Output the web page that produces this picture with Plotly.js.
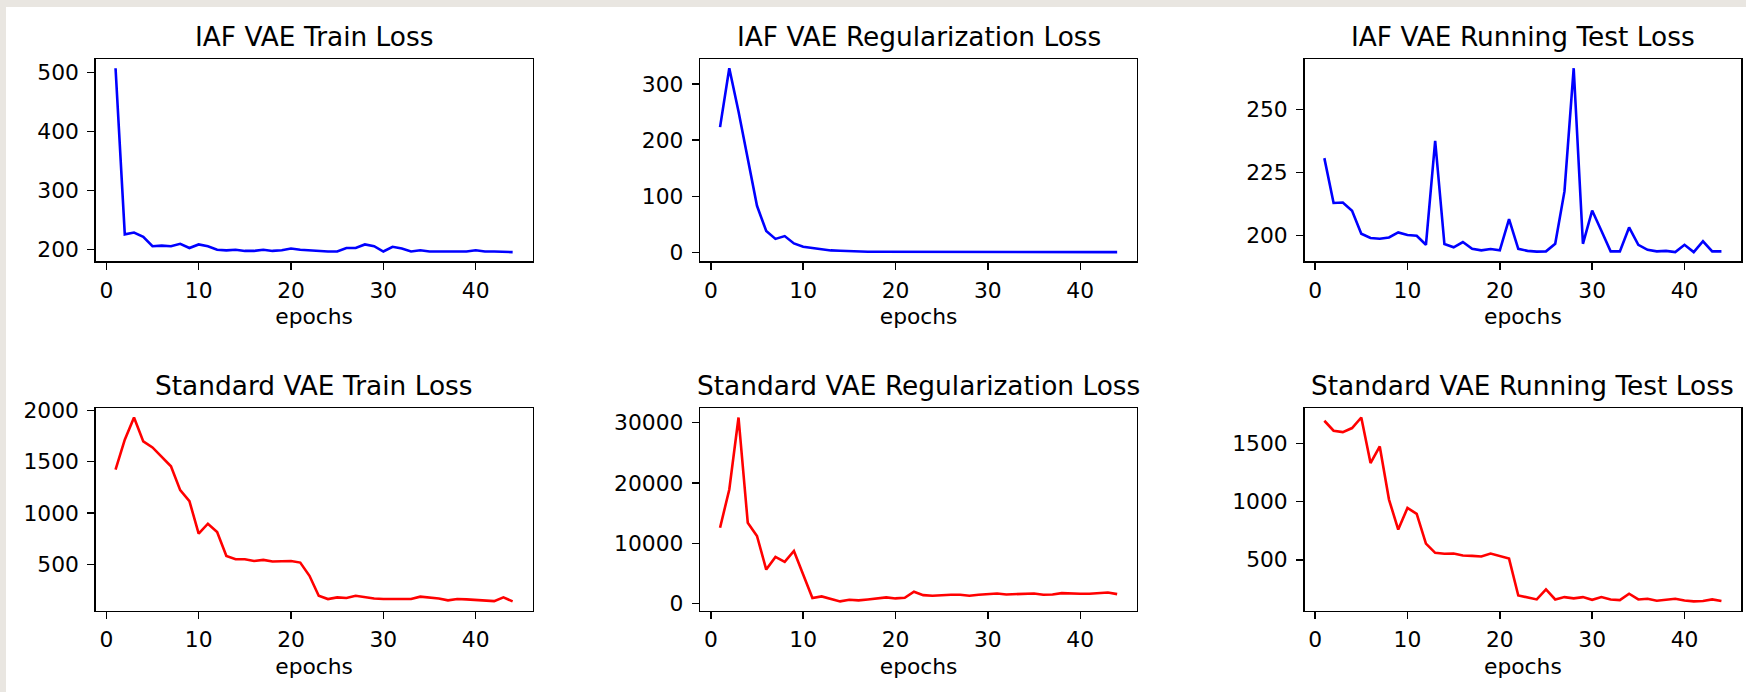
<!DOCTYPE html>
<html>
<head>
<meta charset="utf-8">
<script src="https://cdn.plot.ly/plotly-3.0.1.min.js"></script>
<style>
  html, body { margin: 0; padding: 0; background: #e9e6e1; }
  #chart { width: 1746px; height: 692px; }
</style>
</head>
<body>
<div id="chart"></div>
<script>
// ---------------- DATA ----------------
const epochs = [1,2,3,4,5,6,7,8,9,10,11,12,13,14,15,16,17,18,19,20,21,22,23,24,25,26,27,28,29,30,31,32,33,34,35,36,37,38,39,40,41,42,43,44];

const titles = [
  "IAF VAE Train Loss",
  "IAF VAE Regularization Loss",
  "IAF VAE Running Test Loss",
  "Standard VAE Train Loss",
  "Standard VAE Regularization Loss",
  "Standard VAE Running Test Loss"
];

const xTickVals = [0, 10, 20, 30, 40];
const xLabel = "epochs";

const iafTrain = [507,226,229,222,206,207,206,210,203,209,206,200,199,200,198,198,200,198,199,202,200,199,197,197,197,203,203,209,206,197,205,202,197,199,197,197,197,197,197,199,197,197,197,196];
const iafReg = [223,328,251,169,83,38,24,29,16,10,8,5,3.5,3,2,1.5,1.2,1,1,0.9,0.9,0.8,0.8,0.8,0.7,0.7,0.7,0.7,0.7,0.6,0.6,0.6,0.6,0.6,0.6,0.6,0.5,0.5,0.5,0.5,0.5,0.5,0.5,0.5];
const iafTest = [230.8,213,213.2,209.9,200.8,199.1,198.8,199.3,201.3,200.3,200,196.4,237.7,196.7,195.4,197.5,194.8,194.2,194.7,194.2,206.6,194.8,194,193.7,193.8,196.8,217.6,266.5,196.8,210,202,193.8,193.8,203.3,196.4,194.4,193.8,194,193.5,196.4,193.5,197.8,193.8,193.8];
const stdTrain = [1423,1715,1932,1699,1640,1553,1456,1223,1116,798,895,814,581,549,549,532,542,526,532,532,516,387,192,160,176,170,192,176,166,160,160,163,160,183,173,166,147,160,157,153,147,140,176,137];
const stdReg = [12582,18900,30824,13407,11209,5659,7747,6923,8736,4890,934,1209,769,385,659,549,714,824,1044,879,989,1978,1429,1319,1429,1484,1484,1319,1484,1538,1703,1538,1593,1703,1703,1484,1538,1758,1648,1648,1648,1703,1868,1593];
const stdTest = [1698,1612,1600,1635,1726,1334,1477,1019,761,947,896,640,560,552,554,537,534,529,554,532,511,193,173,159,245,159,179,168,179,156,179,159,153,208,159,165,148,159,165,150,142,145,159,145];

const seriesList = [iafTrain, iafReg, iafTest, stdTrain, stdReg, stdTest];
const seriesColors = ["#0000ff", "#0000ff", "#0000ff", "#ff0000", "#ff0000", "#ff0000"];
const yDticks = [100, 100, 25, 500, 10000, 500];

// ---------------- LAYOUT ----------------
const W = 1746, H = 692;
const colLeft = [95.7, 700.2, 1304.5];
const colWidth = 436.8;
const rowTop = [59, 408.3];
const rowHeight = 202.3;

const FONT = "DejaVu Sans, Liberation Sans, sans-serif";
const tickFont = { family: FONT, size: 21.8, color: "#000" };
const titleFont = { family: FONT, size: 26.4, color: "#000" };

function padRange(arr) {
  const mn = Math.min(...arr), mx = Math.max(...arr);
  const span = mx - mn;
  return [mn - 0.05 * span, mx + 0.05 * span];
}

const xRange = padRange(epochs);

const data = [];
const layout = {
  width: W, height: H,
  margin: { l: 0, r: 0, t: 0, b: 0, pad: 0 },
  paper_bgcolor: "#e9e6e1",
  plot_bgcolor: "#ffffff",
  showlegend: false,
  font: { family: FONT, color: "#000" },
  shapes: [{
    type: "rect", xref: "paper", yref: "paper", layer: "below",
    x0: 6 / W, x1: 1, y0: 0, y1: 1 - 7 / H,
    fillcolor: "#ffffff", line: { width: 0 }
  }],
  annotations: []
};

const axisCommon = {
  showline: true, mirror: true, linecolor: "#000", linewidth: 1.4,
  ticks: "outside", ticklen: 7, tickwidth: 1.4, tickcolor: "#000",
  showgrid: false, zeroline: false, automargin: false,
  exponentformat: "none", separatethousands: false,
  tickfont: tickFont
};

seriesList.forEach((ys, i) => {
  const n = i + 1;
  const sfx = n === 1 ? "" : String(n);
  const row = Math.floor(i / 3), col = i % 3;
  const x0 = colLeft[col] / W, x1 = (colLeft[col] + colWidth) / W;
  const y1 = 1 - rowTop[row] / H, y0 = 1 - (rowTop[row] + rowHeight) / H;

  data.push({
    x: epochs, y: ys, type: "scatter", mode: "lines",
    xaxis: "x" + sfx, yaxis: "y" + sfx,
    line: { color: seriesColors[i], width: 2.6 },
    hoverinfo: "x+y"
  });

  layout["xaxis" + sfx] = Object.assign({}, axisCommon, {
    domain: [x0, x1], anchor: "y" + sfx,
    range: xRange, tickmode: "array", tickvals: xTickVals,
    ticklabelstandoff: 2,
    title: { text: xLabel, font: tickFont, standoff: 7 }
  });
  layout["yaxis" + sfx] = Object.assign({}, axisCommon, {
    domain: [y0, y1], anchor: "x" + sfx,
    range: padRange(ys), tickmode: "linear", tick0: 0, dtick: yDticks[i],
    tickformat: "d",
    ticklabelstandoff: 4
  });

  layout.annotations.push({
    text: titles[i], showarrow: false,
    xref: "x" + sfx + " domain", yref: "y" + sfx + " domain",
    x: 0.5, y: 1, xanchor: "center", yanchor: "bottom", yshift: 5,
    font: titleFont
  });
});

Plotly.newPlot("chart", data, layout, { displayModeBar: false, staticPlot: true });
</script>
</body>
</html>
